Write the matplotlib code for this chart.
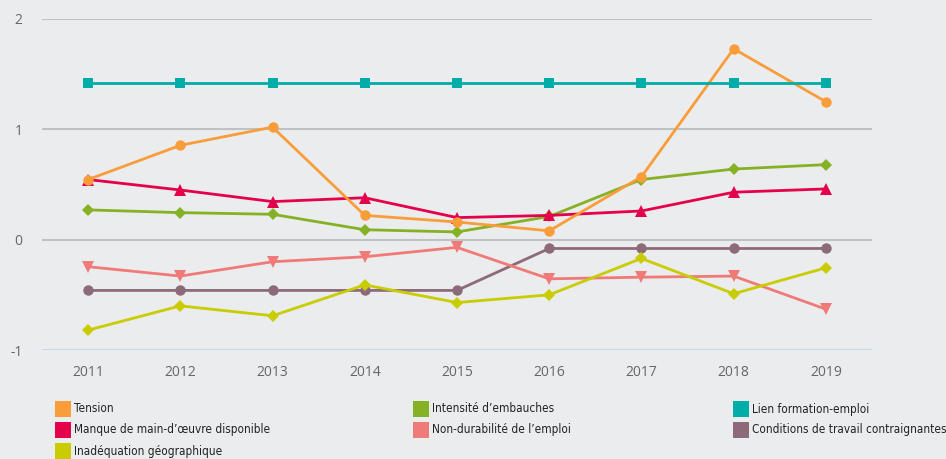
import numpy as np
import matplotlib.pyplot as plt
from matplotlib.patches import Rectangle

plt.rcParams['axes.unicode_minus'] = False

years = [2011, 2012, 2013, 2014, 2015, 2016, 2017, 2018, 2019]

tension = [0.545, 0.855, 1.02, 0.22, 0.16, 0.08, 0.57, 1.73, 1.25]
intensite = [0.27, 0.245, 0.23, 0.09, 0.07, 0.21, 0.545, 0.64, 0.68]
lien = [1.42, 1.42, 1.42, 1.42, 1.42, 1.42, 1.42, 1.42, 1.42]
manque = [0.545, 0.45, 0.345, 0.38, 0.2, 0.22, 0.26, 0.43, 0.46]
non_durabilite = [-0.245, -0.33, -0.2, -0.155, -0.07, -0.355, -0.34, -0.33, -0.63]
conditions = [-0.46, -0.46, -0.46, -0.46, -0.46, -0.08, -0.08, -0.08, -0.08]
inadequation = [-0.82, -0.6, -0.69, -0.41, -0.57, -0.5, -0.17, -0.49, -0.255]

bg = "#EBECEE"

# label, values, colour, marker, legend column, legend row
series = [
    ("Tension", tension, "#F99D3A", "o", 0, 0),
    ("Manque de main-d\u2019\u0153uvre disponible", manque, "#E4004A", "^", 0, 1),
    ("Inad\u00e9quation g\u00e9ographique", inadequation, "#C8CC00", "D", 0, 2),
    ("Intensit\u00e9 d\u2019embauches", intensite, "#86B125", "D", 1, 0),
    ("Non-durabilit\u00e9 de l\u2019emploi", non_durabilite, "#F07A78", "v", 1, 1),
    ("Lien formation-emploi", lien, "#00ADA8", "s", 2, 0),
    ("Conditions de travail contraignantes", conditions, "#8C6A7A", "o", 2, 1),
]
# draw order (back to front)
draw_order = [6, 4, 2, 3, 1, 0, 5]

W, H = 946, 459
fig = plt.figure(figsize=(W / 100, H / 100), dpi=100)
fig.patch.set_facecolor(bg)
ax = fig.add_axes([42 / W, 1 - 350 / H, (872 - 42) / W, (350 - 19) / H])
ax.set_facecolor(bg)

for i in draw_order:
    label, vals, col, mk, _, _ = series[i]
    ms = 7.5 if mk in ("o", "s") else (6 if mk == "D" else 8.5)
    ax.plot(years, vals, color=col, linewidth=2, marker=mk, markersize=ms,
            markeredgewidth=0, zorder=3)

ax.set_xlim(2010.5, 2019.5)
ax.set_ylim(-1, 2)
ax.set_yticks([-1, 0, 1, 2])
ax.set_xticks(years)
for y in [0, 1, 2]:
    ax.axhline(y, color="#BFC2C5", linewidth=1.5, zorder=1)
ax.axhline(-1, color="#CCD6EB", linewidth=1.5, zorder=1)
for s in ax.spines.values():
    s.set_visible(False)
ax.tick_params(length=0, labelcolor="#666666", labelsize=10)
ax.tick_params(axis="x", pad=11)
ax.tick_params(axis="y", pad=14)
for lbl in ax.get_xticklabels() + ax.get_yticklabels():
    lbl.set_family("Open Sans")

# legend drawn by hand at the reference positions
col_x = [55, 413, 733]
row_y = [409, 430, 451]
for label, vals, col, mk, c, r in series:
    x0 = col_x[c]
    yc = row_y[r]
    fig.patches.append(Rectangle((x0 / W, 1 - (yc + 8) / H), 16 / W, 16 / H,
                                 transform=fig.transFigure, facecolor=col,
                                 edgecolor="none"))
    fig.text((x0 + 19) / W, 1 - yc / H, label, fontsize=8.5, color="#222222",
             va="center", ha="left", family="DejaVu Sans", stretch="condensed")

fig.savefig("out.png", dpi=100, facecolor=bg)
